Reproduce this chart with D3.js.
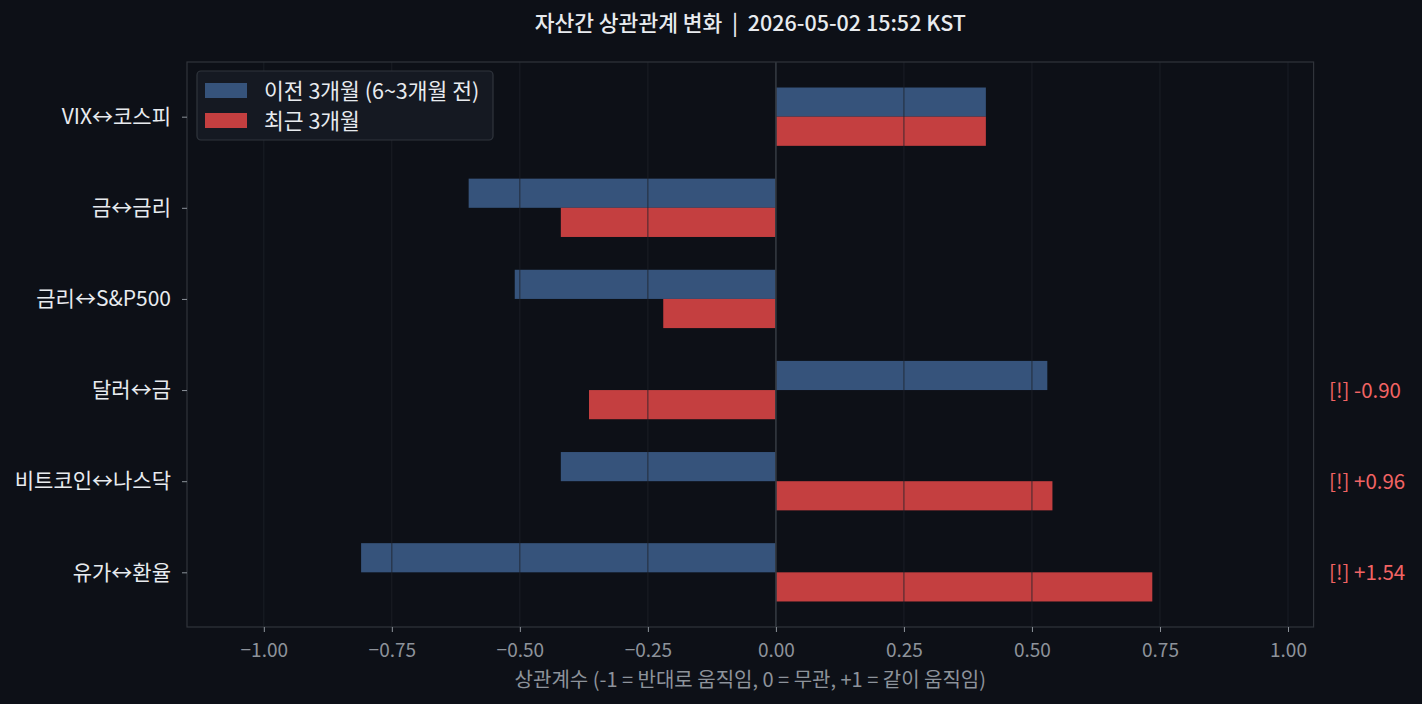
<!DOCTYPE html>
<html><head><meta charset="utf-8">
<script src="https://cdn.jsdelivr.net/npm/d3@7"></script>
<style>
html,body{margin:0;padding:0;background:#0d1117;}
svg{display:block;font-family:"Noto Sans CJK KR","Noto Sans",sans-serif;}
</style></head>
<body><svg id="c" width="1422" height="704"></svg>
<script>
const categories = ["VIX↔코스피","금↔금리","금리↔S&P500","달러↔금","비트코인↔나스닥","유가↔환율"];
const prevValues = [0.41, -0.60, -0.51, 0.53, -0.42, -0.81];
const recentValues = [0.41, -0.42, -0.22, -0.365, 0.54, 0.735];
const alertLabels = ["", "", "", "[!] -0.90", "[!] +0.96", "[!] +1.54"];
const seriesNames = ["이전 3개월 (6~3개월 전)", "최근 3개월"];
const xTicks = [-1.0,-0.75,-0.5,-0.25,0,0.25,0.5,0.75,1.0];
const titleText = "자산간 상관관계 변화  |  2026-05-02 15:52 KST";
const xLabelText = "상관계수 (-1 = 반대로 움직임, 0 = 무관, +1 = 같이 움직임)";

const colors = {bg:"#0d1017", blue:"#36537b", red:"#c43f40", spine:"#30343b", grid:"#1e222a", tick:"#8d939b", text:"#e8ebef", alert:"#f26464"};
const L=187, R=1313.6, T=62, B=627;
const svg = d3.select("#c");
svg.append("rect").attr("width",1422).attr("height",704).attr("fill",colors.bg);

const x = d3.scaleLinear().domain([-1.15,1.05]).range([L,R]);
const y = d3.scaleLinear().domain([-0.6,5.6]).range([T,B]);
const bh = 0.32;

// bars
const g = svg.append("g");
g.selectAll("rect.prev").data(prevValues).join("rect")
  .attr("x",d=>x(Math.min(0,d))).attr("width",d=>Math.abs(x(d)-x(0)))
  .attr("y",(d,i)=>y(i-bh)).attr("height",y(bh)-y(0)).attr("fill",colors.blue);
g.selectAll("rect.rec").data(recentValues).join("rect")
  .attr("x",d=>x(Math.min(0,d))).attr("width",d=>Math.abs(x(d)-x(0)))
  .attr("y",(d,i)=>y(i)).attr("height",y(bh)-y(0)).attr("fill",colors.red);

// grid on top
svg.append("g").selectAll("line").data(xTicks).join("line")
  .attr("x1",d=>x(d)).attr("x2",d=>x(d)).attr("y1",T).attr("y2",B)
  .attr("stroke",colors.grid).attr("stroke-width",0.8);
// zero line
svg.append("line").attr("x1",x(0)).attr("x2",x(0)).attr("y1",T).attr("y2",B)
  .attr("stroke","#353a42").attr("stroke-width",1.5);

// spines
svg.append("rect").attr("x",L).attr("y",T).attr("width",R-L).attr("height",B-T)
  .attr("fill","none").attr("stroke",colors.spine).attr("stroke-width",1.2);

// x axis
const xa = svg.append("g").attr("transform",`translate(0,${B})`)
  .call(d3.axisBottom(x).tickValues(xTicks).tickSize(5).tickPadding(12)
    .tickFormat(d=>d3.format(".2f")(d).replace("-","−")));
xa.select(".domain").remove();
xa.selectAll("line").attr("stroke",colors.tick);
xa.selectAll("text").attr("fill",colors.tick).style("font-size","19px").style("font-family","'Noto Sans CJK KR',sans-serif");

// y axis
const ya = svg.append("g").attr("transform",`translate(${L},0)`)
  .call(d3.axisLeft(y).tickValues(d3.range(categories.length)).tickSize(5).tickPadding(11)
    .tickFormat(i=>categories[i]));
ya.select(".domain").remove();
ya.selectAll("line").attr("stroke",colors.tick);
ya.selectAll("text").attr("fill",colors.text).style("font-size","21px").style("font-family","'Noto Sans CJK KR',sans-serif");

// alerts
svg.append("g").selectAll("text").data(alertLabels).join("text")
  .attr("x",x(1.08)).attr("y",(d,i)=>y(i)+1).attr("dy","0.35em")
  .attr("fill",colors.alert).style("font-size","20.5px").text(d=>d);

// title
svg.append("text").attr("x",(L+R)/2).attr("y",31).attr("text-anchor","middle")
  .attr("fill",colors.text).style("font-size","21.5px").style("font-weight","500").attr("xml:space","preserve").style("white-space","pre").text(titleText);
// x label
svg.append("text").attr("x",(L+R)/2).attr("y",687).attr("text-anchor","middle")
  .attr("fill",colors.tick).style("font-size","20px").text(xLabelText);

// legend
const lg = svg.append("g");
lg.append("rect").attr("x",197).attr("y",71).attr("width",296).attr("height",69).attr("rx",4)
  .attr("fill","#151922").attr("stroke","#30353d").attr("stroke-width",1.2);
[colors.blue, colors.red].forEach((c,i)=>{
  lg.append("rect").attr("x",205).attr("y",83+i*30).attr("width",42).attr("height",15).attr("fill",c);
  lg.append("text").attr("x",264).attr("y",91+i*30).attr("dy","0.35em").attr("fill",colors.text)
    .style("font-size","21.5px").text(seriesNames[i]);
});
</script></body></html>
